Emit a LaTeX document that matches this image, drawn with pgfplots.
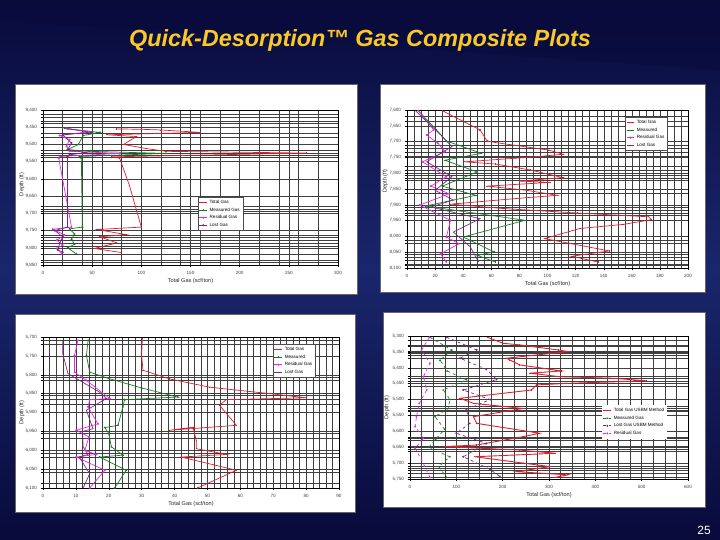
\documentclass[border=0pt]{standalone}
\usepackage{fontspec}
\setmainfont{Liberation Sans}
\usepackage{pgfplots}
\pgfplotsset{compat=1.18}
\definecolor{bgA}{RGB}{8,10,58}
\definecolor{bgB}{RGB}{26,38,108}
\definecolor{gold}{RGB}{250,200,40}
\definecolor{tg}{RGB}{225,30,45}
\definecolor{mg}{RGB}{20,125,30}
\definecolor{rg}{RGB}{230,40,230}
\definecolor{lg}{RGB}{120,40,130}
\pgfplotsset{panel/.style={scale only axis, y dir=reverse, anchor=north west,
  axis line style={black, line width=0.45pt},
  grid=both, major grid style={black!75, line width=0.35pt},
  minor grid style={black!75, line width=0.35pt},
  tick style={black, line width=0.35pt}, tick align=outside,
  xtick pos=bottom, ytick pos=left, major tick length=2.5bp, minor tick length=0pt,
  scaled ticks=false,
  /pgf/number format/assume math mode=true, /pgf/number format/1000 sep={,},
  ticklabel style={font=\fontsize{4.6}{5}\selectfont, text=black!75},
  label style={font=\fontsize{5.6}{6}\selectfont, text=black!85},
  xlabel={Total Gas (scf/ton)}, ylabel={Depth (ft)},
  xlabel style={yshift=3bp},
  legend cell align=left,
  legend style={font=\fontsize{4.6}{5}\selectfont, draw=black!70, fill=white, inner sep=1bp,
     row sep=-1.2bp, line width=0.3pt, anchor=north west},
  legend image code/.code={\draw[mark repeat=2,mark phase=2] plot coordinates {(0cm,0cm) (0.14cm,0cm) (0.28cm,0cm)};},
  every axis plot/.append style={line width=0.7pt, mark size=0.6pt},
  extra y tick labels={}, extra y tick style={grid=major, major tick length=2.5bp},
}}
\begin{document}
\begin{tikzpicture}
\useasboundingbox (0bp,0bp) rectangle (720bp,540bp);
\shade[top color=bgA, bottom color=bgA, middle color=bgB] (0bp,0bp) rectangle (720bp,540bp);
\fill[bgA, opacity=0.45] (0bp,540bp) -- (720bp,540bp) -- (720bp,470bp) -- (0bp,520bp) -- cycle;
\node[font=\fontsize{23.5}{26}\selectfont\bfseries\itshape, text=gold] at (360bp,500bp) {Quick-Desorption™ Gas Composite Plots};
\node[font=\fontsize{12}{13}\selectfont, text=white] at (704bp,10bp) {25};
% panels
\filldraw[fill=white, draw=black!60, line width=1pt] (15bp,245bp) rectangle (357bp,455bp);
\filldraw[fill=white, draw=black!60, line width=1pt] (380bp,247bp) rectangle (705bp,455bp);
\filldraw[fill=white, draw=black!60, line width=1pt] (15bp,28bp) rectangle (355bp,225bp);
\filldraw[fill=white, draw=black!60, line width=1pt] (383bp,33bp) rectangle (705bp,227bp);

% Panel 1
\begin{axis}[panel, at={(43bp,430bp)}, width=295bp, height=155bp,
  ylabel style={at={(axis description cs:-0.071,0.52)}, anchor=center},
  xmin=0, xmax=300, xtick={0,50,...,300}, minor xtick={20,40,60,80,120,140,160,180,220,240,260,280},
  ymin=9400, ymax=9850, ytick={9400,9450,...,9850},
  extra y ticks={9412,9422,9431,9439,9468,9480,9516,9524,9531,9538,9548,9680,9688,9695,9762,9770,9778,9786,9794,9820,9835,9843},
  legend style={at={(0.525,0.439)}}]
\addplot[tg, mark=+] coordinates {(75,9455)(100,9456)(120,9458)(160,9465)(65,9472)(95,9477)(82,9500)(105,9512)(125,9520)(268,9525)(70,9536)(78,9540)(88,9620)(100,9740)(55,9747)(85,9762)(58,9768)(75,9786)(52,9802)(80,9814)};
\addplot[mg, mark=triangle*] coordinates {(25,9455)(58,9465)(41,9474)(36,9500)(25,9515)(47,9520)(125,9526)(37,9535)(39,9540)(40,9740)(27,9745)(32,9760)(29,9775)(32,9790)(25,9800)(34,9818)};
\addplot[rg, mark=*] coordinates {(24,9453)(47,9463)(17,9474)(27,9486)(24,9505)(27,9520)(78,9526)(17,9535)(16,9540)(29,9740)(10,9746)(22,9763)(14,9778)(20,9792)(14,9802)(19,9817)};
\addplot[lg, mark=*] coordinates {(22,9453)(49,9465)(20,9472)(29,9496)(25,9515)(44,9524)(27,9530)(25,9535)(25,9740)(12,9750)(20,9768)(17,9787)(15,9806)(20,9813)};
\legend{Total Gas, Measured Gas, Residual Gas, Lost Gas}
\end{axis}

% Panel 2
\begin{axis}[panel, at={(407bp,430bp)}, width=281bp, height=158bp,
  ylabel style={at={(axis description cs:-0.078,0.55)}, anchor=center},
  xmin=0, xmax=200, xtick={0,20,...,200}, minor x tick num=3,
  ymin=7600, ymax=8100, ytick={7600,7650,...,8100},
  extra y ticks={7621,7634,7711,7722,7732,7746,7778,7789,7806,7817,7822,7864,7907,7918,7926,7933,8012,8023,8055,8066,8074,8087,8092},
  legend style={at={(0.776,0.956)}}]
\addplot[tg, mark=+] coordinates {(25,7602)(52,7663)(57,7698)(63,7703)(101,7727)(111,7740)(92,7748)(41,7764)(63,7771)(88,7790)(111,7814)(80,7825)(102,7829)(57,7841)(85,7854)(107,7870)(78,7880)(31,7898)(69,7912)(121,7926)(172,7938)(174,7947)(154,7962)(123,7975)(98,8007)(144,8046)(117,8063)(136,8081)};
\addplot[mg, mark=+] coordinates {(8,7602)(21,7663)(28,7698)(53,7737)(27,7759)(50,7796)(25,7841)(49,7870)(13,7904)(84,7949)(40,8002)(62,8049)(50,8060)(63,8081)};
\addplot[rg, mark=*] coordinates {(8,7602)(19,7663)(14,7679)(22,7705)(27,7732)(11,7764)(28,7811)(17,7841)(30,7865)(9,7901)(31,7949)(28,8002)(37,8023)(24,8055)(28,8081)};
\addplot[lg, mark=none] coordinates {(6,7602)(24,7679)(32,7716)(14,7764)(32,7811)(20,7854)(33,7885)(17,7907)(52,7944)(33,7986)(45,8033)(51,8081)};
\legend{Total Gas, Measured, Residual Gas, Lost Gas}
\end{axis}

% Panel 3
\begin{axis}[panel, at={(43bp,203bp)}, width=296bp, height=151bp,
  ylabel style={at={(axis description cs:-0.071,0.5)}, anchor=center},
  xmin=0, xmax=90, xtick={0,10,...,90}, minor x tick num=4,
  ymin=5700, ymax=6100, ytick={5700,5750,...,6100},
  extra y ticks={5709,5718,5806,5815,5855,5866,5879,5956,5969,6009,6018,6059,6088},
  legend style={at={(0.777,0.954)}}]
\addplot[tg, mark=+] coordinates {(30.2,5704)(30,5749)(30.4,5788)(38.5,5811)(50.7,5833)(70,5851)(80,5861)(55.7,5866)(53.7,5881)(58.8,5934)(38.5,5947)(45.6,5939)(46.6,5974)(46.6,5996)(56,6011)(42,6018)(58.8,6053)(47,6100)};
\addplot[mg, mark=triangle*] coordinates {(13.7,5709)(13.2,5749)(14.2,5793)(20,5810)(30,5835)(41,5859)(24.8,5866)(24.3,5885)(22.8,5934)(18.8,5940)(20,5956)(20.8,5991)(24.3,6013)(17.2,6018)(25.3,6053)(21.8,6100)};
\addplot[rg, mark=*] coordinates {(10.6,5709)(9.6,5749)(9.6,5793)(13.2,5815)(20.3,5863)(14.2,5866)(13.7,5885)(16.7,5930)(10.1,5947)(14,5965)(12.7,6000)(16.2,6011)(10.1,6018)(18.8,6053)(14.2,6100)};
\addplot[lg, mark=none] coordinates {(6,5709)(6,5744)(7.6,5797)(17.2,5846)(19.3,5863)(13.2,5894)(15.2,5943)(12,5950)(12.2,5991)(13.7,6011)(11,6018)(14.2,6062)(12.2,6100)};
\legend{Total Gas, Measured, Residual Gas, Lost Gas}
\end{axis}

% Panel 4
\begin{axis}[panel, at={(410bp,204bp)}, width=278bp, height=143bp,
  ylabel style={at={(axis description cs:-0.083,0.5)}, anchor=center},
  xmin=0, xmax=600, xtick={0,100,...,600}, minor x tick num=3,
  ymin=5300, ymax=5750, ytick={5300,5350,...,5750},
  extra y ticks={5313,5328,5333,5349,5354,5360,5370,5428,5433,5441,5449,5457,5522,5528,5533,5538,5617,5622,5627,5648,5657,5664,5711,5716,5722,5732,5743},
  legend style={at={(0.69,0.517)}, draw=none}]
\addplot[tg, line width=0.9pt, mark=+] coordinates {(167,5304)(201,5323)(237,5328)(320,5344)(341,5349)(208,5370)(216,5376)(237,5391)(327,5410)(259,5417)(323,5428)(438,5433)(510,5441)(338,5449)(273,5454)(262,5470)(108,5496)(137,5512)(244,5528)(137,5554)(144,5575)(280,5606)(244,5617)(144,5643)(75,5648)(237,5659)(313,5669)(140,5680)(302,5711)(230,5727)(341,5737)(313,5745)};
\addplot[mg, dashed, mark=triangle*] coordinates {(43,5304)(90,5344)(65,5376)(80,5410)(122,5438)(72,5470)(86,5500)(83,5528)(54,5554)(75,5594)(55,5625)(40,5651)(86,5680)(62,5711)(79,5745)};
\addplot[lg, dashed, mark=*] coordinates {(79,5304)(144,5344)(108,5370)(165,5405)(187,5437)(115,5470)(173,5500)(122,5532)(129,5575)(100,5606)(165,5638)(115,5680)(173,5720)(194,5742)};
\addplot[rg, dashed, mark=*] coordinates {(42,5304)(25,5344)(43,5386)(29,5428)(36,5470)(20,5512)(14,5554)(11,5585)(29,5622)(11,5653)(25,5690)(43,5745)};
\legend{Total Gas USBM Method, Measured Gas, Lost Gas USBM Method, Residual Gas}
\end{axis}
\end{tikzpicture}
\end{document}
